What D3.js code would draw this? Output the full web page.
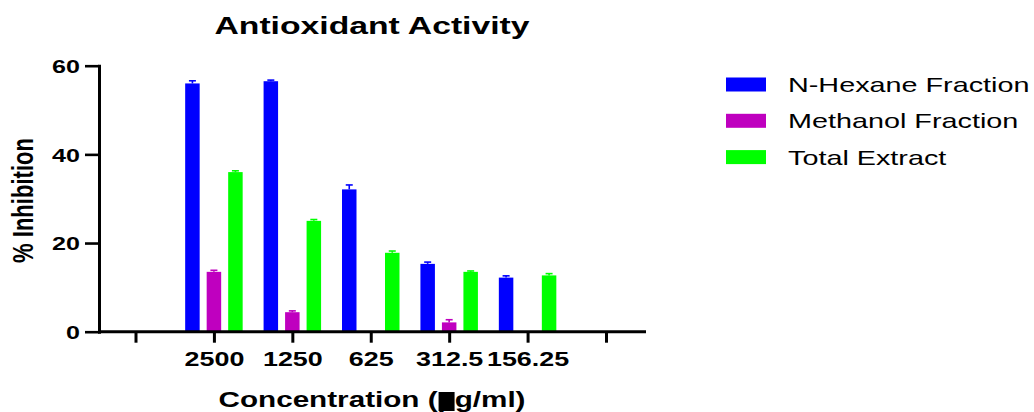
<!DOCTYPE html>
<html>
<head>
<meta charset="utf-8">
<script src="https://cdn.jsdelivr.net/npm/d3@7"></script>
<style>
  body { margin: 0; background: #fff; }
  svg { display: block; }
  text { font-family: "Liberation Sans", Arial, sans-serif; fill: #000; }
</style>
</head>
<body>
<svg id="chart" width="1034" height="412"></svg>
<script>
// Category slots on the x axis (first and last are empty spacer slots)
const tickLabels = ["", "2500", "1250", "625", "312.5", "156.25", ""];
const concentrations = ["2500", "1250", "625", "312.5", "156.25"];
const seriesNames = ["N-Hexane Fraction", "Methanol Fraction", "Total Extract"];

// % inhibition (mean) and its error (upper bar) per concentration
const hexaneMean   = [56.0, 56.5, 32.1, 15.3, 12.2];
const hexaneErr    = [0.6, 0.25, 1.0, 0.4, 0.4];
const methanolMean = [13.5, 4.4, 0, 2.1, 0];
const methanolErr  = [0.35, 0.3, 0, 0.6, 0];
const totalMean    = [36.0, 25.0, 17.8, 13.5, 12.7];
const totalErr     = [0.3, 0.3, 0.4, 0.2, 0.4];

const yTicks = [0, 20, 40, 60];
const colors = ["#0000ff", "#bf00bf", "#00ff00"];

const means = [hexaneMean, methanolMean, totalMean];
const errs = [hexaneErr, methanolErr, totalErr];

const svg = d3.select("#chart");

// Widen a text element horizontally by factor k
function stretch(sel, k) {
  sel.each(function () {
    const w = this.getComputedTextLength();
    d3.select(this).attr("textLength", w * k).attr("lengthAdjust", "spacingAndGlyphs");
  });
}

const axisLeftX = 99, axisRightX = 646;
const x = d3.scalePoint().domain(d3.range(tickLabels.length)).range([135.5, 606]);
const y = d3.scaleLinear().domain([0, 60]).range([331.7, 65.7]);
const xSub = d3.scaleBand().domain(seriesNames).range([-32.25, 32.25])
  .paddingInner(0.326).paddingOuter(0.163);

// Bars
const barData = [];
seriesNames.forEach((name, s) => {
  concentrations.forEach((c, i) => {
    barData.push({ name, s, slot: tickLabels.indexOf(c), v: means[s][i], e: errs[s][i] });
  });
});

const bars = svg.append("g").attr("class", "bars");
bars.selectAll("rect").data(barData).join("rect")
  .attr("x", d => x(d.slot) + xSub(d.name))
  .attr("width", xSub.bandwidth())
  .attr("y", d => y(d.v))
  .attr("height", d => y(0) - y(d.v))
  .attr("fill", d => colors[d.s]);

// Upper error bars
const eb = svg.append("g").attr("class", "errors")
  .selectAll("g").data(barData.filter(d => d.e > 0)).join("g")
  .attr("stroke", d => colors[d.s]).attr("stroke-width", 1.6);
eb.append("line")
  .attr("x1", d => x(d.slot) + xSub(d.name) + xSub.bandwidth() / 2)
  .attr("x2", d => x(d.slot) + xSub(d.name) + xSub.bandwidth() / 2)
  .attr("y1", d => y(d.v)).attr("y2", d => y(d.v + d.e));
eb.append("line")
  .attr("x1", d => x(d.slot) + xSub(d.name) + xSub.bandwidth() / 2 - 3.5)
  .attr("x2", d => x(d.slot) + xSub(d.name) + xSub.bandwidth() / 2 + 3.5)
  .attr("y1", d => y(d.v + d.e)).attr("y2", d => y(d.v + d.e));

// Y axis
const gy = svg.append("g").attr("transform", `translate(${axisLeftX},0)`)
  .call(d3.axisLeft(y).tickValues(yTicks).tickSize(14).tickSizeOuter(0).tickPadding(5));
gy.select(".domain").attr("stroke-width", 3).attr("stroke-linecap", "square");
gy.selectAll(".tick line").attr("stroke-width", 2.6);
gy.selectAll(".tick text")
  .attr("font-size", 19).attr("font-weight", "bold")
  .attr("font-family", "'Liberation Sans', Arial, sans-serif")
  .attr("dy", "0.36em")
  .call(stretch, 1.32);

// X axis
const gx = svg.append("g").attr("transform", `translate(0,${y(0)})`)
  .call(d3.axisBottom(x).tickFormat(i => tickLabels[i]).tickSize(11).tickSizeOuter(0).tickPadding(8));
gx.select(".domain").remove();
gx.append("line").attr("x1", axisLeftX).attr("x2", axisRightX)
  .attr("stroke", "#000").attr("stroke-width", 3);
gx.selectAll(".tick line").attr("stroke-width", 3);
gx.selectAll(".tick text")
  .attr("font-size", 21).attr("font-weight", "bold")
  .attr("font-family", "'Liberation Sans', Arial, sans-serif")
  .attr("y", 19.5).attr("dy", "0.71em")
  .call(stretch, 1.28);

// Title
svg.append("text")
  .attr("x", 372).attr("y", 34)
  .attr("text-anchor", "middle").attr("font-size", 23).attr("font-weight", "bold")
  .text("Antioxidant Activity")
  .attr("textLength", 315).attr("lengthAdjust", "spacingAndGlyphs");

// Y axis title
svg.append("text")
  .attr("transform", "translate(33,200.5) rotate(-90)")
  .attr("text-anchor", "middle").attr("font-size", 29).attr("font-weight", "bold")
  .text("% Inhibition")
  .attr("textLength", 125).attr("lengthAdjust", "spacingAndGlyphs");

// X axis title; the micro sign sits on a solid black block
const xTitleGroup = svg.append("g");
const xTitle = xTitleGroup.append("text")
  .attr("x", 372).attr("y", 407)
  .attr("text-anchor", "middle").attr("font-size", 22).attr("font-weight", "bold")
  .text("Concentration (\u00b5g/ml)")
  .attr("textLength", 307).attr("lengthAdjust", "spacingAndGlyphs");
const muIndex = xTitle.text().indexOf("\u00b5");
const muBox = xTitle.node().getExtentOfChar(muIndex);
xTitleGroup.insert("rect", "text")
  .attr("x", muBox.x + 1).attr("width", 16)
  .attr("y", 392).attr("height", 19)
  .attr("fill", "#000");

// Legend
const legend = svg.append("g").selectAll("g").data(seriesNames).join("g")
  .attr("transform", (d, i) => `translate(726,${84.5 + i * 36.3})`);
legend.append("rect")
  .attr("x", 0).attr("y", -7).attr("width", 40).attr("height", 14)
  .attr("fill", (d, i) => colors[i]);
legend.append("text")
  .attr("x", 62).attr("y", 7.5)
  .attr("font-size", 21)
  .text(d => d)
  .call(stretch, 1.37);
</script>
</body>
</html>
